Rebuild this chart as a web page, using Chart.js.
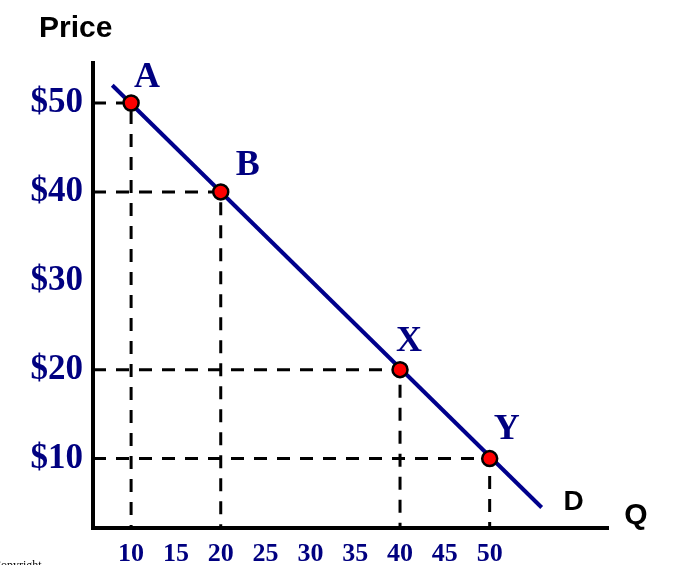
<!DOCTYPE html>
<html>
<head>
<meta charset="utf-8">
<script src="https://cdn.jsdelivr.net/npm/chart.js@4.4.1/dist/chart.umd.min.js"></script>
<style>
  html, body { margin: 0; padding: 0; background: #ffffff; }
  #wrap { width: 679px; height: 565px; position: relative; }
</style>
</head>
<body>
<div id="wrap"><canvas id="c"></canvas></div>
<script>
// ---- data ----
const pointNames = ['A', 'B', 'X', 'Y'];
const pointQ = [10, 20, 40, 50];
const pointP = [50, 40, 20, 10];
const demandQ = [7.9, 55.8];
const demandP = [52, 4.5];
const xTickValues = [10, 15, 20, 25, 30, 35, 40, 45, 50];
const yTickValues = [10, 20, 30, 40, 50];
const yTickLabels = ['$10', '$20', '$30', '$40', '$50'];
const axisTitleY = 'Price';
const axisTitleX = 'Q';
const curveLabel = 'D';
const copyrightText = 'Copyright';

const X_MIN = 5.75, X_MAX = 63.2, Y_MIN = 2.19, Y_MAX = 54.5;
const NAVY = '#000080';
const LINE_NAVY = '#00008c';

const dashedSets = pointQ.map((q, i) => ({
  label: 'guide ' + pointNames[i],
  data: [{x: X_MIN, y: pointP[i]}, {x: q, y: pointP[i]}, {x: q, y: Y_MIN}],
  borderColor: '#000000',
  borderWidth: 3,
  borderDash: [13, 10],
  pointRadius: 0,
  showLine: true,
  fill: false,
  tension: 0,
  order: 3
}));

const demandSet = {
  label: 'Demand',
  data: demandQ.map((q, i) => ({x: q, y: demandP[i]})),
  borderColor: LINE_NAVY,
  borderWidth: 4,
  pointRadius: 0,
  showLine: true,
  fill: false,
  order: 2
};

const pointSet = {
  label: 'Points',
  data: pointQ.map((q, i) => ({x: q, y: pointP[i]})),
  backgroundColor: '#ff0000',
  borderColor: '#000000',
  borderWidth: 2.5,
  pointRadius: 7.5,
  showLine: false,
  order: 1
};

const labelOffsets = [[16, -25], [27, -26], [9, -28], [17, -29]];

const textPlugin = {
  id: 'texts',
  afterDatasetsDraw(chart) {
    const ctx = chart.ctx;
    ctx.save();
    const meta = chart.getDatasetMeta(chart.data.datasets.indexOf(pointSet));
    ctx.fillStyle = NAVY;
    ctx.font = 'bold 36px "Liberation Serif", "Times New Roman", serif';
    ctx.textAlign = 'center';
    ctx.textBaseline = 'middle';
    meta.data.forEach((el, i) => {
      ctx.fillText(pointNames[i], el.x + labelOffsets[i][0], el.y + labelOffsets[i][1]);
    });
    const dm = chart.getDatasetMeta(chart.data.datasets.indexOf(demandSet));
    const end = dm.data[dm.data.length - 1];
    ctx.fillStyle = '#000000';
    ctx.font = 'bold 28px "Liberation Sans", Arial, sans-serif';
    ctx.fillText(curveLabel, end.x + 32, end.y - 5);
    const xs = chart.scales.x;
    ctx.font = 'bold 30px "Liberation Sans", Arial, sans-serif';
    ctx.fillText(axisTitleX, xs.right + 28, xs.top - 12);
    ctx.textAlign = 'left';
    ctx.textBaseline = 'alphabetic';
    ctx.fillText(axisTitleY, 39, 37);
    ctx.font = '12px "Liberation Serif", serif';
    ctx.fillText(copyrightText, -7, 569);
    ctx.restore();
  }
};

new Chart(document.getElementById('c'), {
  type: 'scatter',
  data: { datasets: [...dashedSets, demandSet, pointSet] },
  options: {
    responsive: true,
    maintainAspectRatio: false,
    animation: false,
    layout: { padding: { left: 0, top: 63, right: 71, bottom: 0 } },
    plugins: { legend: { display: false }, tooltip: { enabled: false } },
    scales: {
      x: {
        type: 'linear',
        min: X_MIN, max: X_MAX,
        grid: { display: false, drawTicks: false },
        border: { display: true, color: '#000000', width: 4 },
        afterBuildTicks: (s) => { s.ticks = xTickValues.map(v => ({value: v})); },
        afterFit: (s) => { s.height = 37; },
        ticks: {
          autoSkip: false,
          maxRotation: 0,
          padding: 11,
          color: NAVY,
          font: { family: '"Liberation Serif", "Times New Roman", serif', size: 26, weight: 'bold' },
          callback: (v) => String(v)
        }
      },
      y: {
        type: 'linear',
        min: Y_MIN, max: Y_MAX,
        grid: { display: false, drawTicks: false },
        border: { display: true, color: '#000000', width: 4 },
        afterBuildTicks: (s) => { s.ticks = yTickValues.map(v => ({value: v})); },
        afterFit: (s) => { s.width = 93; },
        ticks: {
          autoSkip: false,
          padding: 10,
          color: NAVY,
          font: { family: '"Liberation Serif", "Times New Roman", serif', size: 35, weight: 'bold' },
          callback: (v) => yTickLabels[yTickValues.indexOf(v)]
        }
      }
    }
  },
  plugins: [textPlugin]
});
</script>
</body>
</html>
